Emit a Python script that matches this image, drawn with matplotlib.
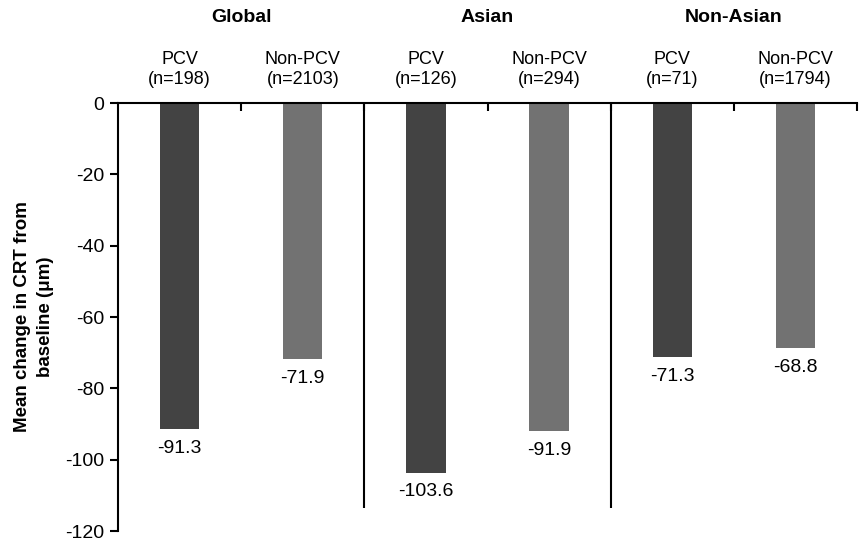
import matplotlib
matplotlib.use("Agg")
from matplotlib import pyplot as plt
from matplotlib import transforms

plt.rcParams['font.family'] = ['Liberation Sans', 'DejaVu Sans']
plt.rcParams['axes.unicode_minus'] = False

groups = ["Global", "Asian", "Non-Asian"]
arms = ["PCV", "Non-PCV", "PCV", "Non-PCV", "PCV", "Non-PCV"]
nLabels = ["(n=198)", "(n=2103)", "(n=126)", "(n=294)", "(n=71)", "(n=1794)"]
values = [-91.3, -71.9, -103.6, -91.9, -71.3, -68.8]
colours = ["#434343", "#727272"] * 3

W, H = 859, 542
fig = plt.figure(figsize=(W/100, H/100), dpi=100)
ax = fig.add_axes([118/W, 1-531/H, (857-118)/W, (531-103)/H])

xs = list(range(len(values)))
ax.bar(xs, values, width=0.32, color=colours, zorder=2)

for x, v in zip(xs, values):
    ax.annotate(f"{v:.1f}", (x, v), xytext=(0, -14), textcoords="offset points",
                ha="center", va="center", fontsize=14)

ax.set_xlim(-0.5, 5.5)
ax.set_ylim(-120, 0)
ax.set_yticks(range(-120, 1, 20))
ax.tick_params(axis='y', direction='out', length=6, width=1.5, labelsize=14, pad=4)
ax.set_xticks([0.5, 1.5, 2.5, 3.5, 4.5, 5.5])
ax.set_xticklabels([])
ax.tick_params(axis='x', top=True, bottom=False, direction='in', length=6, width=1.5)

for s in ["bottom", "right"]:
    ax.spines[s].set_visible(False)
for s in ["left", "top"]:
    ax.spines[s].set_linewidth(1.5)

# group separators
ax.vlines([1.5, 3.5], -113.5, 0, color="black", lw=1.5)

trans = transforms.blended_transform_factory(ax.transData, ax.transAxes)
for x, a, n in zip(xs, arms, nLabels):
    ax.text(x, 1.078, f"{a}\n{n}", transform=trans, ha="center", va="center",
            fontsize=13, linespacing=1.2)
for i, g in enumerate(groups):
    ax.text(2*i + 0.5, 1.199, g, transform=trans, ha="center", va="center",
            fontsize=14, fontweight="bold")

ax.set_ylabel("Mean change in CRT from\nbaseline (\u03bcm)", fontsize=13.5,
              fontweight="bold", labelpad=8, linespacing=1.45)

fig.savefig("out.png", dpi=100)
